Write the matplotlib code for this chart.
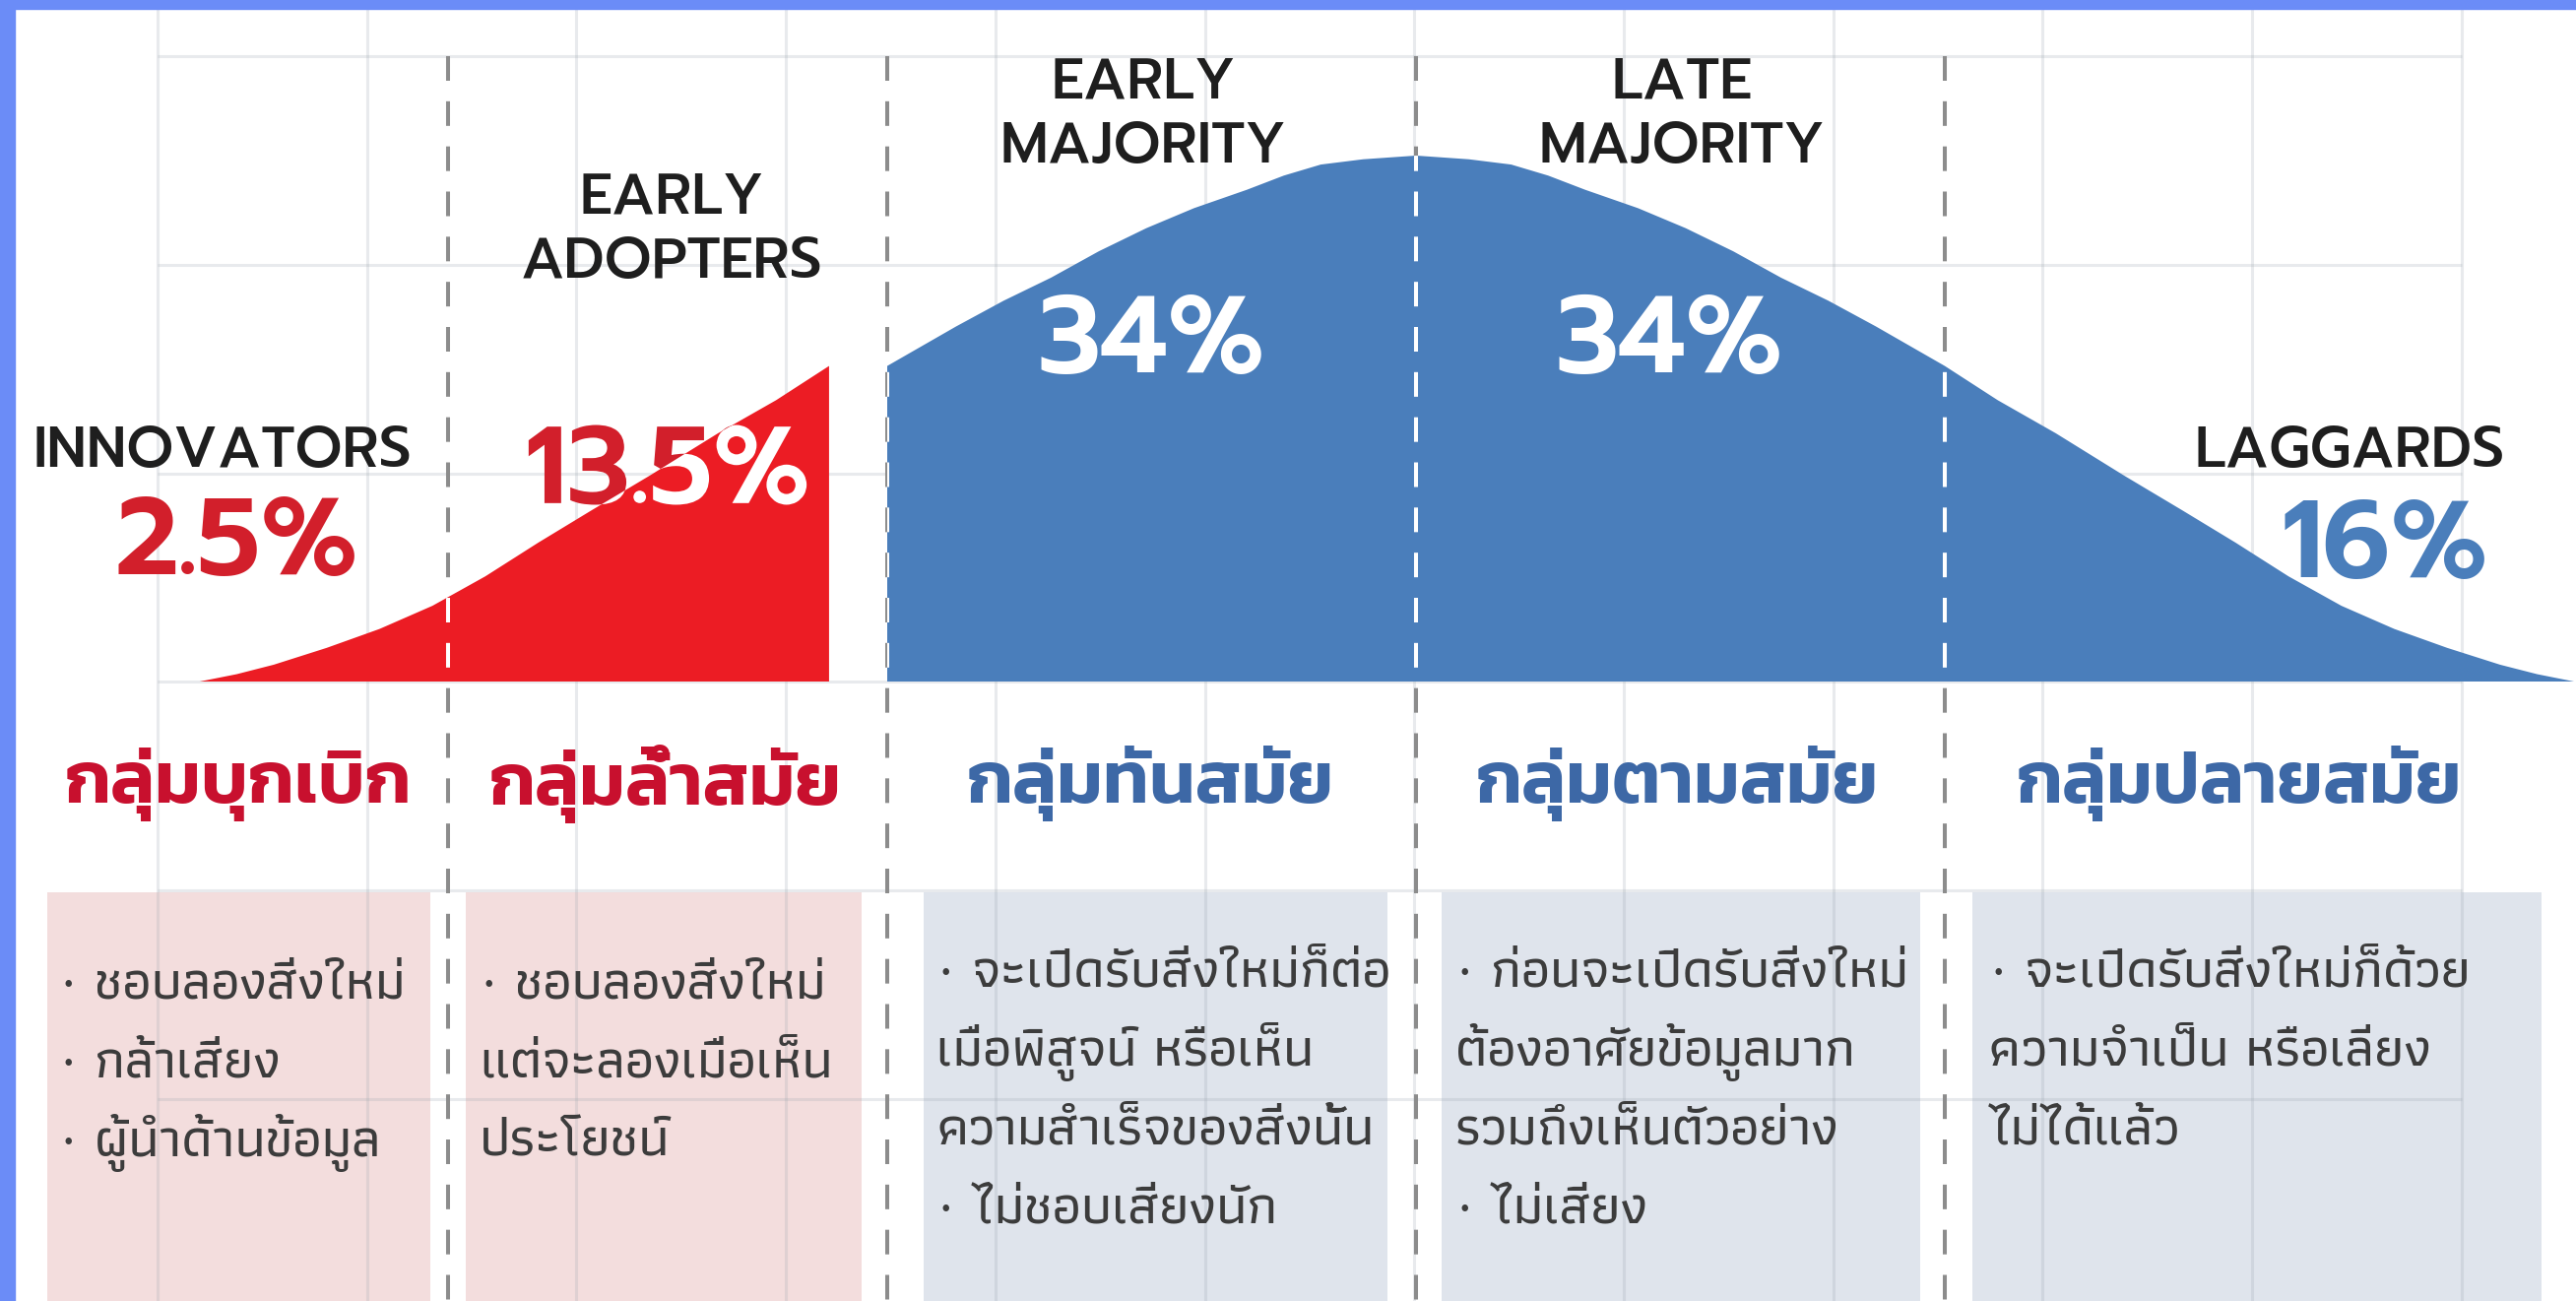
import numpy as np
import matplotlib
matplotlib.use("Agg")
import matplotlib.pyplot as plt
from matplotlib.patches import Rectangle, PathPatch
from matplotlib.textpath import TextPath
from matplotlib.font_manager import FontProperties
from matplotlib.transforms import Affine2D

# ---- data ----
segment_en = ["INNOVATORS", "EARLY\nADOPTERS", "EARLY\nMAJORITY", "LATE\nMAJORITY", "LAGGARDS"]
segment_pct = ["2.5%", "13.5%", "34%", "34%", "16%"]
segment_th = ["กลุ่มบุกเบิก", "กลุ่มล้ำสมัย", "กลุ่มทันสมัย", "กลุ่มตามสมัย", "กลุ่มปลายสมัย"]
box_lines = [
    ["· ชอบลองสิ่งใหม่", "· กล้าเสี่ยง", "· ผู้นำด้านข้อมูล"],
    ["· ชอบลองสิ่งใหม่", "แต่จะลองเมื่อเห็น", "ประโยชน์"],
    ["· จะเปิดรับสิ่งใหม่ก็ต่อ", "เมื่อพิสูจน์ หรือเห็น", "ความสำเร็จของสิ่งนั้น", "· ไม่ชอบเสี่ยงนัก"],
    ["· ก่อนจะเปิดรับสิ่งใหม่", "ต้องอาศัยข้อมูลมาก", "รวมถึงเห็นตัวอย่าง", "· ไม่เสี่ยง"],
    ["· จะเปิดรับสิ่งใหม่ก็ด้วย", "ความจำเป็น หรือเลี่ยง", "ไม่ได้แล้ว"],
]
# half of the bell: offset from the peak (standard deviations) and relative height
curve_offset = [0.00, 0.10, 0.18, 0.25, 0.32, 0.42, 0.51, 0.60, 0.69, 0.78, 0.87, 1.00,
                1.10, 1.21, 1.34, 1.45, 1.55, 1.65, 1.75, 1.85, 1.95, 2.05, 2.12, 2.19]
curve_height = [1.000, 0.993, 0.983, 0.962, 0.935, 0.900, 0.862, 0.818, 0.768, 0.724, 0.675, 0.600,
                0.535, 0.472, 0.391, 0.325, 0.264, 0.200, 0.144, 0.100, 0.064, 0.032, 0.014, 0.000]
boundaries = [-1.83, -1.0, 0.0, 1.0]   # dashed separators, in standard deviations
split_at = -1.0                         # red / blue split
red_shift = -0.11                       # red part is pulled left, leaving a gap

# ---- layout (pixels) ----
W, H = 2616, 1321
MEAN_X, SD_PX, BASE_Y, PEAK_PX = 1438, 537, 692, 534
GRID_X0, GRID_Y0, GRID_STEP_X, GRID_STEP_Y = 160, 57, 212.7, 211.8
PT = 100 / 72  # pixels per point

RED, BLUE = "#ec1c24", "#4a7ebb"
RED_TXT, BLUE_TXT = "#d21f2b", "#3d68a6"
PINK_BOX, BLUE_BOX = "#f3dddd", "#dfe4ec"

LATIN = ["Prompt", "DejaVu Sans"]
TH_HEAD = ["Kanit", "DejaVu Sans"]
TH_BODY = ["Athiti", "DejaVu Sans"]

plt.rcParams["lines.scale_dashes"] = False


def text_patch(ax, x, y, s, prop, **kw):
    """
    Text as a path patch centred on (x, y), so that it can be clipped
    """
    tp = TextPath((0, 0), s, prop=prop)
    ext = tp.get_extents()
    cx, cy = (ext.x0 + ext.x1) / 2, (ext.y0 + ext.y1) / 2
    tr = Affine2D().translate(-cx, -cy).scale(PT, -PT).translate(x, y) + ax.transData
    patch = PathPatch(tp, transform=tr, lw=0, **kw)
    ax.add_patch(patch)
    return patch


fig = plt.figure(figsize=(W / 100, H / 100), dpi=100)
ax = fig.add_axes([0, 0, 1, 1])
ax.set_xlim(0, W)
ax.set_ylim(H, 0)
ax.axis("off")

# frame strips on the left and top
fig.patches.append(Rectangle((0, 0), 15 / W, 1, transform=fig.transFigure, color="#6b8cf7", zorder=10))
fig.patches.append(Rectangle((0, 1 - 9 / H), 1, 9 / H, transform=fig.transFigure, color="#6b8cf7", zorder=10))

# boxes, under the grid
box_x = [(48, 437), (473, 875), (938, 1409), (1464, 1950), (2003, 2581)]
for i, (x0, x1) in enumerate(box_x):
    ax.add_patch(Rectangle((x0, 906), x1 - x0, H - 906,
                           color=PINK_BOX if i < 2 else BLUE_BOX, lw=0, zorder=0.5))

# grid
gx = [GRID_X0 + k * GRID_STEP_X for k in range(12)]
gy = [GRID_Y0 + k * GRID_STEP_Y for k in range(6)]
ax.vlines(gx, 9, H, color="#9aa3ad", alpha=0.22, lw=2.2, zorder=1)
ax.hlines(gy, gx[0], gx[-1], color="#9aa3ad", alpha=0.22, lw=2.2, zorder=1)

# bell curve, mirrored around the peak
off = np.array(curve_offset)
hgt = np.array(curve_height)
xs = np.concatenate([-off[::-1], off[1:]])
hs = np.concatenate([hgt[::-1], hgt[1:]])

blue = xs >= split_at
red = xs <= split_at
px_b = MEAN_X + xs[blue] * SD_PX
px_r = MEAN_X + (xs[red] + red_shift) * SD_PX
poly_b = ax.fill(np.r_[px_b, px_b[-1], px_b[0]],
                 np.r_[BASE_Y - hs[blue] * PEAK_PX, BASE_Y, BASE_Y], color=BLUE, lw=0, zorder=3)[0]
poly_r = ax.fill(np.r_[px_r, px_r[-1], px_r[0]],
                 np.r_[BASE_Y - hs[red] * PEAK_PX, BASE_Y, BASE_Y], color=RED, lw=0, zorder=3)[0]

# dashed separators: gray on white, white inside the fills
for b in boundaries:
    x = MEAN_X + b * SD_PX
    ax.plot([x, x], [GRID_Y0, H], color="#8c8c8c", lw=2.9, ls=(0, (18, 15)), zorder=2)
    for poly in (poly_b, poly_r):
        ln, = ax.plot([x, x], [GRID_Y0, H], color="white", lw=2.9, ls=(0, (18, 15)), zorder=4)
        ln.set_clip_path(poly)

# english names
en_pos = [(226, 459), (682, 234), (1161, 117), (1708, 117), (2386, 459)]
for (x, y), t in zip(en_pos, segment_en):
    ax.text(x, y, t, family=LATIN, weight=500, fontsize=42, color="#1e1e1e",
            ha="center", va="center", linespacing=1.22, zorder=5)

# percentages
pct_pos = [(240, 554), (678, 472), (1169, 349), (1695, 349), (2422, 557)]
pct_col = [RED_TXT, RED_TXT, "white", "white", BLUE]
pct_prop = FontProperties(family=LATIN, weight=600, size=80)
for i, ((x, y), t, c) in enumerate(zip(pct_pos, segment_pct, pct_col)):
    if i == 1:
        # red on white, white where it runs over the red fill
        text_patch(ax, x, y, t, pct_prop, color=c, zorder=2.5)
        text_patch(ax, x, y, t, pct_prop, color="white", zorder=5).set_clip_path(poly_r)
    else:
        ax.text(x, y, t, fontproperties=pct_prop, color=c, ha="center", va="center",
                zorder=2.5 if i == 4 else 5)

# thai group names
th_x = [242, 676, 1168, 1703, 2274]
for i, (x, t) in enumerate(zip(th_x, segment_th)):
    ax.text(x, 796, t, family=TH_HEAD, weight=600, fontsize=54,
            color="#c8102e" if i < 2 else BLUE_TXT, ha="center", va="center", zorder=5)

# descriptions in the boxes
txt_x = [60, 487, 951, 1478, 2020]
txt_y0 = [1000, 1000, 988, 988, 988]
for x, y0, lines in zip(txt_x, txt_y0, box_lines):
    for j, line in enumerate(lines):
        ax.text(x, y0 + j * 80, line, family=TH_BODY, weight=500, fontsize=40, color="#3c3c3c",
                ha="left", va="center", zorder=5)

fig.savefig("out.png", dpi=100)
